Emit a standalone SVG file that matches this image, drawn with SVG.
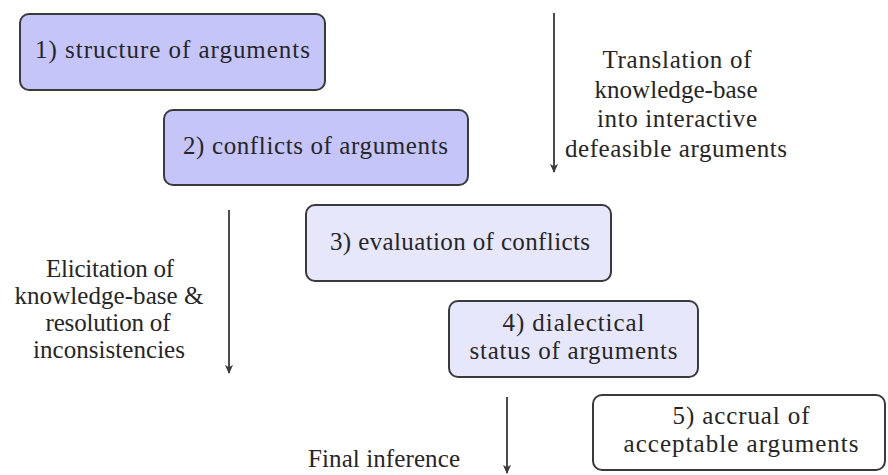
<svg xmlns="http://www.w3.org/2000/svg" width="888" height="475" viewBox="0 0 888 475">
<style>
  .box { stroke: #3a3a3a; stroke-width: 2; }
  .dark { fill: #c5c5fa; }
  .light { fill: #e7e7fb; }
  .white { fill: #ffffff; }
  text { font-family: "Liberation Serif", "Times New Roman", serif; font-size: 25px; fill: #262626; text-anchor: middle; }
  .conn line { stroke: #4a4a4a; stroke-width: 2; }
</style>
<defs>
  <marker id="ah" viewBox="0 0 10 10" refX="9" refY="5" markerWidth="4.5" markerHeight="4.5" orient="auto" markerUnits="strokeWidth">
    <path d="M0,0.5 L10,5 L0,9.5 L2.5,5 Z" fill="#3a3a3a"/>
  </marker>
</defs>
<rect width="888" height="475" fill="#ffffff"/>
<g id="node1">
  <rect class="box dark" x="20" y="14" width="305" height="76" rx="9"/>
  <text x="172.5" y="58" textLength="275">1) structure of arguments</text>
</g>
<g id="node2">
  <rect class="box dark" x="164" y="110" width="304" height="75" rx="9"/>
  <text x="315.5" y="154" textLength="265">2) conflicts of arguments</text>
</g>
<g id="node3">
  <rect class="box light" x="306" y="205" width="305" height="76" rx="9"/>
  <text x="460" y="250" textLength="260">3) evaluation of conflicts</text>
</g>
<g id="node4">
  <rect class="box light" x="449" y="301" width="249" height="76" rx="9"/>
  <text x="573.5" y="331" textLength="142">4) dialectical</text>
  <text x="573.5" y="359" textLength="208">status of arguments</text>
</g>
<g id="node5">
  <rect class="box white" x="593" y="395" width="292" height="75" rx="9"/>
  <text x="741" y="424" textLength="137">5) accrual of</text>
  <text x="741" y="452" textLength="235">acceptable arguments</text>
</g>

<g id="connectors" class="conn">
  <line x1="554" y1="13" x2="554" y2="172" marker-end="url(#ah)"/>
  <line x1="229" y1="210" x2="229" y2="373" marker-end="url(#ah)"/>
  <line x1="507" y1="397" x2="507" y2="473" marker-end="url(#ah)"/>
</g>

<g id="labels">
  <text x="677" y="68" textLength="149">Translation of</text>
  <text x="676" y="97.5" textLength="163">knowledge-base</text>
  <text x="677" y="127" textLength="160">into interactive</text>
  <text x="676" y="156.5" textLength="222">defeasible arguments</text>

  <text x="110" y="277" textLength="128">Elicitation of</text>
  <text x="109" y="304" textLength="189">knowledge-base &amp;</text>
  <text x="108" y="331" textLength="125">resolution of</text>
  <text x="109" y="358" textLength="152">inconsistencies</text>

  <text x="384" y="467" textLength="152">Final inference</text>
</g>
</svg>
